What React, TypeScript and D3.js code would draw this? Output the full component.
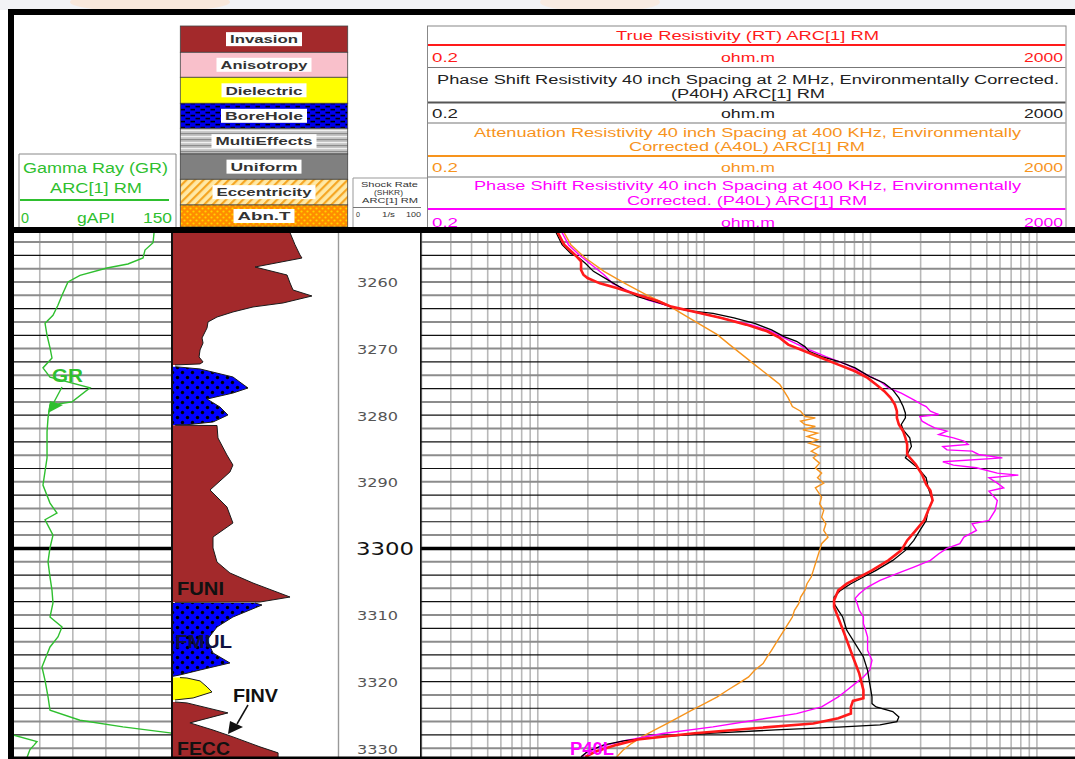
import React from "react";
import * as d3 from "d3";

// ---------------- DATA ----------------
const depthTicks = [3260, 3270, 3280, 3290, 3300, 3310, 3320, 3330];
const resTickLabels = ["0.2", "ohm.m", "2000"];
const grTickLabels = ["0", "gAPI", "150"];
const flagLegend = ["Invasion", "Anisotropy", "Dielectric", "BoreHole", "MultiEffects", "Uniform", "Eccentricity", "Abn.T"];

// Gamma ray [depth, gAPI]  (values > 150 wrap around)
const GR: [number, number][] = [
  [3252.6, 133.7], [3254.1, 132.8], [3255.2, 125.5], [3256.4, 123.7], [3257.3, 110], [3257.9, 91.0], [3259.0, 66.5],
  [3260.0, 55.6], [3262.0, 50.2], [3263.5, 46.5], [3265.0, 42.0], [3266.2, 34.8], [3268.0, 36.6], [3269.9, 39.3],
  [3271.4, 41.1], [3272.9, 32.9], [3274.3, 39.3], [3275.9, 75.6], [3278.0, 59.3], [3278.5, 39.3], [3280.4, 37.5],
  [3282.5, 36.6], [3286.4, 36.6], [3290.5, 32.9], [3293.2, 39.3], [3294.7, 45.6], [3295.7, 34.8], [3298.0, 42.0],
  [3299.9, 39.3], [3302.0, 37.5], [3304.3, 39.3], [3306.3, 41.1], [3308.2, 42.0], [3310.3, 39.3], [3311.8, 50.2],
  [3313.3, 46.5], [3314.8, 39.3], [3317.8, 32.0], [3319.8, 34.8], [3322.3, 37.5], [3324.3, 39.3], [3325.8, 66.5],
  [3326.8, 105.5], [3327.7, 148.2], [3328.0, 155.7], [3329.0, 177.5], [3329.5, 175.0], [3330.2, 171.1], [3331.4, 168.4],
];

// True resistivity RT [depth, ohm.m]
const RT: [number, number][] = [
  [3252.6, 1.32], [3254.4, 1.44], [3255.9, 1.67], [3256.9, 1.82], [3258.2, 1.82], [3258.9, 1.88], [3259.4, 1.99],
  [3260.2, 2.36], [3260.9, 2.98], [3261.9, 3.98], [3262.9, 5.31], [3263.7, 6.33], [3264.4, 8.44], [3265.4, 12.7],
  [3266.4, 17.9], [3267.4, 23.9], [3268.4, 28.5], [3269.4, 32.0], [3270.4, 40.3], [3271.4, 50.8], [3272.4, 64.0],
  [3273.4, 80.8], [3274.4, 96.0], [3275.4, 108], [3276.4, 121], [3277.4, 132], [3278.4, 140], [3279.4, 144],
  [3280.4, 144], [3281.4, 148], [3282.4, 157], [3283.4, 162], [3284.4, 166], [3285.9, 166], [3287.4, 187],
  [3288.9, 204], [3290.4, 216], [3291.3, 229], [3292.8, 236], [3294.3, 222], [3295.8, 210], [3297.3, 187],
  [3298.8, 166], [3300.3, 153], [3301.8, 128], [3303.3, 102], [3304.3, 85.6], [3305.3, 72.0], [3306.3, 64.0],
  [3307.8, 60.4], [3308.8, 60.4], [3311.3, 66.0], [3313.8, 72.0], [3316.3, 78.4], [3318.8, 85.6], [3321.3, 90.6],
  [3322.5, 90.6], [3322.9, 78.4], [3323.8, 76.2], [3324.8, 76.2], [3325.5, 64.0], [3326.3, 45.3], [3327.0, 20.1],
  [3327.8, 8.44], [3328.7, 3.98], [3329.5, 2.98], [3330.5, 2.23], [3331.3, 1.93],
];

// P40H [depth, ohm.m]
const P40H: [number, number][] = [
  [3252.6, 1.29], [3254.4, 1.40], [3255.7, 1.58], [3256.4, 1.77], [3257.2, 1.93], [3258.4, 2.16], [3259.9, 2.73],
  [3261.2, 3.34], [3262.2, 3.98], [3262.9, 5.02], [3263.7, 6.33], [3264.3, 7.97], [3264.7, 11.3], [3265.4, 15.1],
  [3266.2, 20.1], [3267.2, 25.4], [3268.2, 30.2], [3268.9, 35.9], [3269.7, 40.3], [3270.4, 42.7], [3271.2, 50.8],
  [3271.9, 64.0], [3272.9, 80.8], [3274.2, 98.9], [3275.2, 121], [3276.2, 136], [3277.4, 148], [3278.7, 157],
  [3279.7, 162], [3280.4, 162], [3281.4, 153], [3282.2, 157], [3283.4, 172], [3284.7, 176], [3285.9, 166],
  [3286.4, 162], [3286.9, 172], [3287.9, 192], [3289.4, 216], [3290.9, 222], [3292.8, 236], [3294.3, 222],
  [3295.8, 216], [3297.3, 198], [3298.8, 182], [3300.3, 162], [3301.8, 136], [3303.3, 108], [3304.3, 90.6],
  [3305.3, 76.2], [3306.3, 66.0], [3307.3, 60.4], [3308.3, 60.4], [3309.3, 64.0], [3310.3, 68.0], [3312.3, 72.0],
  [3314.3, 80.8], [3316.3, 90.6], [3318.3, 96.0], [3320.3, 98.9], [3322.3, 102], [3323.3, 102], [3323.8, 108],
  [3324.5, 136], [3325.3, 148], [3326.0, 144], [3326.5, 114], [3326.85, 64.0], [3327.25, 26.9], [3327.75, 11.3],
  [3328.25, 5.63], [3328.85, 3.34], [3329.5, 2.50], [3330.5, 1.99], [3331.3, 1.82],
];

// P40L [depth, ohm.m]
const P40L: [number, number][] = [
  [3252.6, 1.40], [3254.4, 1.53], [3255.9, 1.77], [3257.4, 2.10], [3258.9, 2.50], [3260.2, 2.81], [3261.4, 3.54],
  [3262.7, 4.59], [3263.7, 6.33], [3264.4, 8.44], [3265.4, 12.7], [3266.4, 19.0], [3267.4, 25.4], [3268.7, 32.0],
  [3269.9, 40.3], [3271.2, 53.9], [3272.4, 72.0], [3273.7, 90.6], [3274.9, 114], [3275.9, 128], [3276.7, 153],
  [3277.7, 182], [3278.4, 204], [3278.7, 216], [3279.4, 229], [3279.9, 257], [3280.2, 198], [3280.9, 204],
  [3281.4, 222], [3281.9, 243], [3282.4, 288], [3282.9, 257], [3283.4, 315], [3283.9, 364], [3284.4, 386],
  [3284.7, 272], [3285.2, 288], [3285.4, 408], [3285.9, 446], [3286.4, 620], [3287.0, 272], [3287.5, 315],
  [3287.9, 433], [3288.7, 578], [3289.0, 773], [3289.4, 515], [3290.2, 578], [3290.9, 631], [3291.4, 515],
  [3292.8, 578], [3294.3, 561], [3295.8, 515], [3296.3, 408], [3297.3, 433], [3298.3, 364], [3299.3, 344],
  [3300.0, 288], [3300.8, 257], [3301.8, 229], [3302.8, 182], [3303.8, 144], [3304.8, 114], [3305.8, 96.0],
  [3306.8, 85.6], [3307.5, 80.8], [3308.3, 83.2], [3309.3, 85.6], [3310.3, 90.6], [3311.3, 90.6], [3312.3, 93.4],
  [3313.3, 96.0], [3315.3, 96.0], [3316.8, 102], [3318.3, 98.9], [3319.3, 90.6], [3320.3, 80.8], [3321.3, 72.0],
  [3322.3, 64.0], [3323.8, 50.8], [3324.8, 35.9], [3325.8, 20.1], [3326.8, 11.3], [3327.8, 5.63], [3329.0, 3.16],
  [3329.8, 2.36], [3330.5, 1.99], [3331.3, 1.85],
];

// A40L [depth, ohm.m]
const A40L: [number, number][] = [
  [3252.6, 1.44], [3254.4, 1.58], [3256.4, 1.93], [3258.4, 2.50], [3260.2, 3.34], [3261.9, 4.47], [3263.4, 5.97],
  [3264.9, 7.52], [3266.4, 9.49], [3267.9, 12.0], [3269.4, 14.2], [3270.9, 16.9], [3272.4, 20.1], [3273.4, 22.6],
  [3274.4, 25.4], [3275.4, 28.5], [3276.4, 30.2], [3277.4, 32.0], [3278.7, 33.9], [3279.4, 38.0], [3280.2, 40.3],
  [3280.4, 46.6], [3280.9, 38.0], [3281.4, 40.3], [3281.7, 46.6], [3282.2, 39.2], [3282.7, 48.0], [3283.2, 41.5],
  [3283.7, 48.0], [3284.2, 42.7], [3284.7, 49.4], [3285.4, 44.0], [3285.9, 48.0], [3286.4, 45.3], [3287.2, 49.4],
  [3287.9, 46.6], [3288.7, 50.8], [3289.4, 48.0], [3290.2, 52.3], [3290.9, 46.6], [3292.3, 50.8], [3293.3, 49.4],
  [3294.3, 52.3], [3295.3, 50.8], [3296.3, 53.9], [3297.3, 52.3], [3298.3, 55.5], [3299.3, 50.8], [3300.3, 49.4],
  [3301.3, 48.0], [3302.3, 46.6], [3303.3, 45.3], [3304.3, 44.0], [3305.3, 41.5], [3306.3, 40.3], [3307.3, 38.0],
  [3308.3, 37.0], [3309.3, 34.9], [3310.3, 33.9], [3311.3, 32.0], [3312.3, 30.2], [3313.3, 28.5], [3314.3, 26.9],
  [3315.3, 25.4], [3316.3, 23.9], [3317.3, 22.6], [3318.3, 20.1], [3319.3, 18.5], [3320.3, 16.0], [3321.3, 13.8],
  [3322.3, 12.0], [3323.3, 10.05], [3324.3, 8.44], [3325.3, 7.10], [3326.3, 5.97], [3327.3, 5.02], [3328.3, 4.22],
  [3329.3, 3.65], [3330.3, 3.25], [3331.3, 2.98],
];

// Flag track shapes [depth, amplitude 0-100]
const INVASION_1: [number, number][] = [
  [3252.6, 71.1], [3254.4, 74.1], [3255.95, 77.1], [3256.4, 78.3], [3257.75, 50.0], [3258.95, 69.3], [3260.15, 71.1],
  [3261.2, 72.9], [3262.1, 84.3], [3263.15, 66.9], [3263.75, 48.8], [3264.5, 36.7], [3265.26, 27.1], [3266.0, 21.7],
  [3266.9, 21.1], [3268.4, 18.1], [3269.16, 18.7], [3270.2, 16.9], [3271.26, 16.3], [3272.0, 18.7], [3272.3, 16.9],
  [3272.46, 1.8],
];
const BOREHOLE_1: [number, number][] = [
  [3272.72, 2], [3273.06, 16.9], [3274.26, 36.7], [3275.92, 45.8], [3276.67, 36.7], [3277.57, 21.1], [3278.77, 28.9],
  [3279.97, 33.7], [3281.02, 24.7], [3281.43, 9.0], [3281.47, 1.8],
];
const INVASION_2: [number, number][] = [
  [3281.5, 2], [3281.55, 27.1], [3283.42, 27.7], [3285.98, 33.1], [3287.48, 36.7], [3288.53, 34.9], [3291.23, 22.9],
  [3293.78, 33.1], [3296.19, 36.7], [3298.29, 24.7], [3299.94, 24.7], [3302.04, 27.1], [3303.69, 34.9], [3305.2, 48.8],
  [3307.3, 71.1], [3308.05, 53.0], [3308.1, 1.8],
];
const BOREHOLE_2: [number, number][] = [
  [3308.2, 50], [3308.5, 54.2], [3310.3, 36.7], [3311.8, 27.1], [3313.75, 21.1], [3315.7, 24.7], [3317.2, 34.9],
  [3318.26, 16.9], [3319.0, 4.8], [3319.2, 0.6],
];
const DIELECTRIC_1: [number, number][] = [
  [3319.4, 4.8], [3319.46, 9.0], [3319.9, 16.9], [3320.8, 21.1], [3321.56, 24.1], [3322.46, 12.7], [3322.76, 1.8],
];
const INVASION_3: [number, number][] = [
  [3323.06, 1.8], [3323.2, 9.0], [3324.7, 33.7], [3326.2, 10.8], [3327.27, 24.7], [3328.3, 36.7], [3329.8, 53.0],
  [3330.7, 63.9], [3331.6, 63.9],
];

// ---------------- LAYOUT / STYLE ----------------
const W = 1075, H = 759;
const BODY_TOP = 233, BODY_BOT = 757;
const yS = d3.scaleLinear().domain([3260, 3330]).range([282, 748.2]);
const resX = d3.scaleLog().domain([0.2, 2000]).range([421.5, 1087]);
const grX = d3.scaleLinear().domain([0, 150]).range([6.7, 172]);
const flagX = d3.scaleLinear().domain([0, 100]).range([172, 338]);

const GREEN = "#2fbf2f";
const RED = "#ff1a1a";
const ORANGE = "#f7941d";
const MAGENTA = "#ff00ff";
const INV = "#a3292b";
const FONT = "'Liberation Sans', Arial, sans-serif";

function T(p: { x1: number; x2: number; y: number; size?: number; fill?: string; weight?: number | string; family?: string; children: any }) {
  return (
    <text x={p.x1} y={p.y} textLength={p.x2 - p.x1} lengthAdjust="spacingAndGlyphs" fontSize={p.size ?? 12}
      fill={p.fill ?? "#222"} fontWeight={p.weight ?? 400} fontFamily={p.family ?? FONT}>{p.children}</text>
  );
}

export default function App() {
  const resLine = d3.line<[number, number]>().x(d => resX(d[1])).y(d => yS(d[0]));
  const grLine = d3.line<[number, number]>().x(d => grX(d[1])).y(d => yS(d[0]));
  const grWrapLine = d3.line<[number, number]>().x(d => grX(d[1] - 150)).y(d => yS(d[0]));
  const flagArea = d3.area<[number, number]>().y(d => yS(d[0])).x0(flagX(0)).x1(d => flagX(d[1]));
  const flagEdge = d3.line<[number, number]>().x(d => flagX(d[1])).y(d => yS(d[0]));

  const hDepths = d3.range(3254, 3331, 2);
  const resGrid: number[] = [];
  [0.1, 1, 10, 100, 1000].forEach(dec => {
    for (let m = 1; m <= 9; m++) {
      const v = +(m * dec).toPrecision(3);
      if (v >= 0.2 && v <= 1000) resGrid.push(v);
    }
  });
  const grGrid = [30, 60, 90, 120];

  const legendFills = ["#a3292b", "#f9c0cb", "#ffff00", "url(#bhDash)", "url(#multi)", "#808080", "url(#ecc)", "url(#abnt)"];
  const legendBounds = [26, 52.3, 77.3, 103.3, 128.3, 154, 179.3, 205, 227];
  const legendTextW = [68, 87, 77, 78, 97, 67, 95, 53];

  const resHeaders = [
    { color: RED, lines: [["True Resistivity (RT) ARC[1] RM", 616, 879, 40]], bar: 45, scale: 62, sep: 67.5 },
    { color: "#222", lines: [["Phase Shift Resistivity 40 inch Spacing at 2 MHz, Environmentally Corrected.", 437, 1059, 84], ["(P40H) ARC[1] RM", 671, 825, 98]], bar: 102.5, scale: 118, sep: 123 },
    { color: ORANGE, lines: [["Attenuation Resistivity 40 inch Spacing at 400 KHz, Environmentally", 474, 1021, 137], ["Corrected (A40L) ARC[1] RM", 629, 865, 151]], bar: 156, scale: 172, sep: 177 },
    { color: MAGENTA, lines: [["Phase Shift Resistivity 40 inch Spacing at 400 KHz, Environmentally", 474, 1021, 190], ["Corrected. (P40L) ARC[1] RM", 627, 867, 205]], bar: 209, scale: 226.5, sep: 0 },
  ];

  const flags: { data: [number, number][]; fill: string }[] = [
    { data: INVASION_1, fill: INV }, { data: BOREHOLE_1, fill: "url(#bhDots)" }, { data: INVASION_2, fill: INV },
    { data: BOREHOLE_2, fill: "url(#bhDots)" }, { data: DIELECTRIC_1, fill: "#ffff00" }, { data: INVASION_3, fill: INV },
  ];

  return (
    <div style={{ position: "absolute", left: 0, top: 0, width: W, height: H, background: "#fff", overflow: "hidden" }}>
      <svg width={W} height={H} style={{ display: "block" }} fontFamily={FONT}>
        <defs>
          <pattern id="bhDots" width="10" height="10" patternUnits="userSpaceOnUse">
            <rect width="10" height="10" fill="#0000ff" />
            <circle cx="2.5" cy="2.5" r="1.7" fill="#000" />
            <circle cx="7.5" cy="7.5" r="1.7" fill="#000" />
          </pattern>
          <pattern id="bhDash" width="10" height="6" patternUnits="userSpaceOnUse">
            <rect width="10" height="6" fill="#0000ee" />
            <rect x="0.5" y="0.8" width="4.5" height="1.6" fill="#000" />
            <rect x="5.5" y="3.8" width="4.5" height="1.6" fill="#000" />
          </pattern>
          <pattern id="multi" width="6" height="6" patternUnits="userSpaceOnUse">
            <rect width="6" height="6" fill="#c4c4c4" />
            <rect y="1" width="6" height="1.2" fill="#8c8c8c" />
            <rect y="4" width="6" height="1.2" fill="#f0f0f0" />
          </pattern>
          <pattern id="ecc" width="6" height="6" patternUnits="userSpaceOnUse" patternTransform="rotate(45)">
            <rect width="6" height="6" fill="#ffe9a6" />
            <rect x="0" y="0" width="2.2" height="6" fill="#f5a623" />
          </pattern>
          <pattern id="abnt" width="6" height="6" patternUnits="userSpaceOnUse">
            <rect width="6" height="6" fill="#ff8c00" />
            <circle cx="1.5" cy="1.5" r="1.1" fill="#ffd400" />
            <circle cx="4.5" cy="4.5" r="1.1" fill="#ffd400" />
          </pattern>
          <clipPath id="grClip"><rect x={14} y={BODY_TOP} width={158} height={BODY_BOT - BODY_TOP} /></clipPath>
          <clipPath id="resClip"><rect x={421} y={BODY_TOP} width={W - 421} height={BODY_BOT - BODY_TOP} /></clipPath>
          <clipPath id="flagClip"><rect x={172} y={BODY_TOP} width={166} height={BODY_BOT - BODY_TOP} /></clipPath>
        </defs>

        {/* faint page background strip */}
        <rect x={0} y={0} width={W} height={10} fill="#f2f3f6" />
        <ellipse cx={150} cy={2} rx={80} ry={10} fill="#fbe3d2" opacity={0.7} />
        <ellipse cx={600} cy={2} rx={60} ry={10} fill="#fbe6d6" opacity={0.6} />

        {/* ---------- HEADER ---------- */}
        {/* GR header */}
        <path d="M19,227 V154 H176 V227" fill="none" stroke="#888" strokeWidth={1} />
        <T x1={23} x2={168} y={173} size={15.5} fill={GREEN}>Gamma Ray (GR)</T>
        <T x1={50} x2={142} y={193} size={15.5} fill={GREEN}>ARC[1] RM</T>
        <line x1={20} x2={169} y1={200} y2={200} stroke={GREEN} strokeWidth={2.2} />
        <T x1={21} x2={29} y={223} size={15.5} fill={GREEN}>{grTickLabels[0]}</T>
        <T x1={77} x2={115} y={223} size={15.5} fill={GREEN}>{grTickLabels[1]}</T>
        <T x1={143} x2={172} y={223} size={15.5} fill={GREEN}>{grTickLabels[2]}</T>

        {/* flag legend */}
        {flagLegend.map((name, i) => {
          const y0 = legendBounds[i], y1 = legendBounds[i + 1];
          const cy = (y0 + y1) / 2;
          const tw = legendTextW[i];
          return (
            <g key={name}>
              <rect x={180.3} y={y0} width={167.4} height={y1 - y0} fill={legendFills[i]} stroke="#444" strokeWidth={0.8} />
              <rect x={264 - tw / 2 - 4} y={cy - 7} width={tw + 8} height={14} fill="#fff" />
              <T x1={264 - tw / 2} x2={264 + tw / 2} y={cy + 4.3} size={11.5} fill="#333" weight={700}>{name}</T>
            </g>
          );
        })}

        {/* shock rate header */}
        <path d="M353,227 V178 H427" fill="none" stroke="#999" strokeWidth={1} />
        <line x1={353} x2={421} y1={207.5} y2={207.5} stroke="#777" strokeWidth={1} />
        <T x1={361} x2={418} y={187} size={8} fill="#333">Shock Rate</T>
        <T x1={374} x2={403} y={195} size={8} fill="#333">(SHKR)</T>
        <T x1={362} x2={418} y={203} size={8} fill="#333">ARC[1] RM</T>
        <T x1={356} x2={360} y={217} size={7.5} fill="#333">0</T>
        <T x1={382} x2={395} y={217} size={7.5} fill="#333">1/s</T>
        <T x1={406} x2={421} y={217} size={7.5} fill="#333">100</T>

        {/* resistivity header */}
        <rect x={427.5} y={26} width={638.5} height={202} fill="none" stroke="#888" strokeWidth={1} />
        {resHeaders.map((h, i) => (
          <g key={i}>
            {h.lines.map((l: any, j: number) => (
              <T key={j} x1={l[1]} x2={l[2]} y={l[3]} size={12} fill={h.color}>{l[0]}</T>
            ))}
            <line x1={428} x2={1065.5} y1={h.bar} y2={h.bar} stroke={h.color === "#222" ? "#555" : h.color} strokeWidth={2} />
            <T x1={432} x2={458} y={h.scale} size={12} fill={h.color}>{resTickLabels[0]}</T>
            <T x1={721} x2={775} y={h.scale} size={12} fill={h.color}>{resTickLabels[1]}</T>
            <T x1={1024} x2={1063} y={h.scale} size={12} fill={h.color}>{resTickLabels[2]}</T>
            {h.sep ? <line x1={428} x2={1065.5} y1={h.sep} y2={h.sep} stroke="#777" strokeWidth={1.2} /> : null}
          </g>
        ))}

        {/* ---------- BODY ---------- */}
        {/* GR grid */}
        <g clipPath="url(#grClip)">
          {grGrid.map(v => (
            <line key={v} x1={grX(v)} x2={grX(v)} y1={BODY_TOP} y2={BODY_BOT} stroke="#b8b8b8" strokeWidth={1.6} />
          ))}
          {hDepths.map(d => (
            <line key={d} x1={14} x2={172} y1={yS(d)} y2={yS(d)}
              stroke={d === 3300 ? "#000" : d % 4 === 0 ? "#111" : "#8c8c8c"}
              strokeWidth={d === 3300 ? 3.5 : d % 4 === 0 ? 1.2 : 2} />
          ))}
          <path d={grLine(GR) ?? ""} fill="none" stroke={GREEN} strokeWidth={1.4} />
          <path d={grWrapLine(GR.filter(d => d[1] > 100)) ?? ""} fill="none" stroke={GREEN} strokeWidth={1.4} />
        </g>

        {/* resistivity grid */}
        <g clipPath="url(#resClip)">
          {resGrid.map(v => (
            <line key={v} x1={resX(v)} x2={resX(v)} y1={BODY_TOP} y2={BODY_BOT} stroke="#b8b8b8" strokeWidth={1.6} />
          ))}
          {hDepths.map(d => (
            <line key={d} x1={421} x2={W} y1={yS(d)} y2={yS(d)}
              stroke={d === 3300 ? "#000" : d % 4 === 0 ? "#111" : "#8c8c8c"}
              strokeWidth={d === 3300 ? 3.5 : d % 4 === 0 ? 1.2 : 2} />
          ))}
          <path d={resLine(A40L) ?? ""} fill="none" stroke={ORANGE} strokeWidth={1.4} />
          <path d={resLine(P40L) ?? ""} fill="none" stroke={MAGENTA} strokeWidth={1.4} />
          <path d={resLine(P40H) ?? ""} fill="none" stroke="#000" strokeWidth={1.3} />
          <path d={resLine(RT) ?? ""} fill="none" stroke={RED} strokeWidth={2.6} />
          <text x={570} y={755} textLength={44} lengthAdjust="spacingAndGlyphs" fontSize={19} fontWeight={700} fill={MAGENTA} fontFamily={FONT}>P40L</text>
        </g>

        {/* flag track */}
        <g clipPath="url(#flagClip)">
          {flags.map((f, i) => (
            <g key={i}>
              <path d={flagArea(f.data) ?? ""} fill={f.fill} />
              <path d={flagEdge(f.data) ?? ""} fill="none" stroke="#1a1a1a" strokeWidth={1} />
            </g>
          ))}
        </g>
        <T x1={177} x2={224} y={595} size={19} fill="#111" weight={700}>FUNI</T>
        <T x1={175} x2={232} y={648} size={19} fill="#101040" weight={700}>FMUL</T>
        <T x1={233} x2={278} y={702} size={19} fill="#111" weight={700}>FINV</T>
        <T x1={177} x2={230} y={755} size={19} fill="#111" weight={700}>FECC</T>
        <line x1={248} y1={705} x2={237} y2={724} stroke="#111" strokeWidth={1.5} />
        <polygon points="228,734 230,721 243,727" fill="#111" />

        {/* GR annotation */}
        <T x1={52} x2={83} y={382} size={18} fill={GREEN} weight={700}>GR</T>
        <line x1={62} y1={387} x2={53} y2={404} stroke={GREEN} strokeWidth={1.4} />
        <polygon points="48,413 50,401 63,405" fill={GREEN} />

        {/* depth labels */}
        {depthTicks.map(d =>
          d === 3300 ? (
            <T key={d} x1={356} x2={414} y={yS(d) + 6.6} size={17} fill="#111" family="'DejaVu Sans', sans-serif">{String(d)}</T>
          ) : (
            <T key={d} x1={357} x2={398} y={yS(d) + 5.3} size={13} fill="#555" family="'DejaVu Sans', sans-serif">{String(d)}</T>
          )
        )}

        {/* track borders */}
        <line x1={172} x2={172} y1={BODY_TOP} y2={BODY_BOT} stroke="#111" strokeWidth={2} />
        <line x1={338.5} x2={338.5} y1={BODY_TOP} y2={BODY_BOT} stroke="#999" strokeWidth={1.4} />
        <line x1={420.8} x2={420.8} y1={BODY_TOP} y2={BODY_BOT} stroke="#111" strokeWidth={1.6} />

        {/* heavy frame */}
        <rect x={8} y={9} width={W - 8} height={6} fill="#000" />
        <rect x={8} y={9} width={6} height={H - 9} fill="#000" />
        <rect x={8} y={227} width={W - 8} height={6} fill="#000" />
        <rect x={8} y={756.5} width={W - 8} height={2.5} fill="#000" />
      </svg>
    </div>
  );
}
